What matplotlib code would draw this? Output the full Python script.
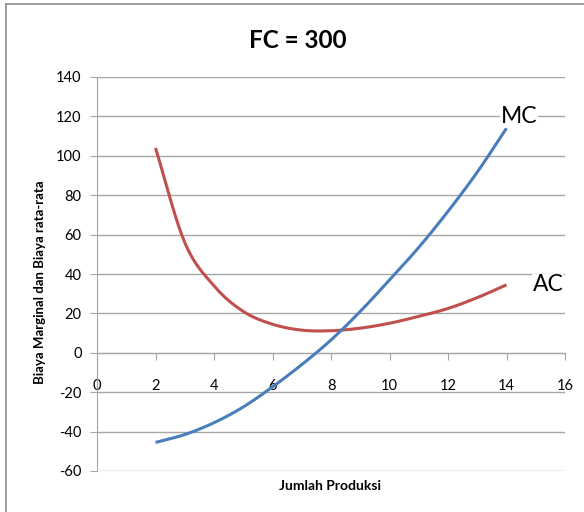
import numpy as np
import matplotlib.pyplot as plt
from matplotlib.lines import Line2D

# values
q = [2, 3, 4, 5, 6, 7, 8, 9, 10, 11, 12, 13, 14]
ac = [104, 56, 34, 21, 14.5, 11.5, 11.2, 12.5, 15, 18.5, 22.5, 28, 34.5]
mc = [-45.5, -41.5, -35.5, -27.5, -17.3, -6, 6.5, 21, 37, 53.5, 71.8, 91.7, 114]
xticks = [0, 2, 4, 6, 8, 10, 12, 14, 16]
yticks = [-60, -40, -20, 0, 20, 40, 60, 80, 100, 120, 140]

plt.rcParams['font.family'] = ['Lato', 'DejaVu Sans']
plt.rcParams['axes.unicode_minus'] = False

fig = plt.figure(figsize=(5.84, 5.12), dpi=100)
ax = fig.add_axes([97 / 584, 1 - 471 / 512, (565 - 97) / 584, (471 - 77) / 512])

# smoothed line like Excel's (Catmull-Rom through the read points)
def smooth(x, y):
    x = np.asarray(x, float)
    y = np.asarray(y, float)
    px = np.concatenate([[2 * x[0] - x[1]], x, [2 * x[-1] - x[-2]]])
    py = np.concatenate([[2 * y[0] - y[1]], y, [2 * y[-1] - y[-2]]])
    xs, ys = [], []
    t = np.linspace(0, 1, 20, endpoint=False)
    for i in range(1, len(px) - 2):
        for P, out in ((px, xs), (py, ys)):
            p0, p1, p2, p3 = P[i - 1], P[i], P[i + 1], P[i + 2]
            out.extend(0.5 * (2 * p1 + (-p0 + p2) * t
                              + (2 * p0 - 5 * p1 + 4 * p2 - p3) * t ** 2
                              + (-p0 + 3 * p1 - 3 * p2 + p3) * t ** 3))
    xs.append(x[-1])
    ys.append(y[-1])
    return xs, ys

ax.plot(*smooth(q, ac), color='#c0504d', lw=2.2, solid_capstyle='butt', zorder=3)
ax.plot(*smooth(q, mc), color='#4a7ebb', lw=2.2, solid_capstyle='butt', zorder=3)

ax.set_xlim(0, 16)
ax.set_ylim(-60, 140)
ax.set_yticks(yticks)
ax.set_xticks(xticks)
ax.yaxis.grid(True, color='#a6a6a6', lw=1)
ax.set_axisbelow(True)

for s in ('top', 'right'):
    ax.spines[s].set_visible(False)
ax.spines['left'].set_color('#a6a6a6')
ax.spines['bottom'].set_color('#a6a6a6')
ax.spines['bottom'].set_position(('data', 0))
ax.tick_params(axis='y', length=5, color='#a6a6a6', labelsize=10.5, pad=6)
ax.tick_params(axis='x', length=5, color='#a6a6a6', labelsize=10.5, pad=14)

ax.text(13.8, 120, 'MC', fontsize=16.5, ha='left', va='center',
        bbox=dict(facecolor='white', edgecolor='none', pad=0.5), zorder=4)
ax.text(14.9, 34.5, 'AC', fontsize=16.5, ha='left', va='center',
        bbox=dict(facecolor='white', edgecolor='none', pad=0.5), zorder=4)

fig.text(298 / 584, 1 - 40 / 512, 'FC = 300', fontsize=17.5, fontweight='bold',
         ha='center', va='center')
fig.text(40 / 584, 1 - 282 / 512, 'Biaya Marginal dan Biaya rata-rata',
         fontsize=9.5, fontweight='bold', rotation=90, ha='center', va='center')
fig.text(330 / 584, 1 - 486 / 512, 'Jumlah Produksi', fontsize=10,
         fontweight='bold', ha='center', va='center')

# chart border (left and top edges visible)
fig.add_artist(Line2D([5.5 / 584, 5.5 / 584], [0, 1 - 4 / 512], color='#8c8c8c', lw=1.2,
                      transform=fig.transFigure))
fig.add_artist(Line2D([5.5 / 584, 1], [1 - 4 / 512, 1 - 4 / 512], color='#8c8c8c', lw=1.2,
                      transform=fig.transFigure))

fig.savefig('out.png', dpi=100)
